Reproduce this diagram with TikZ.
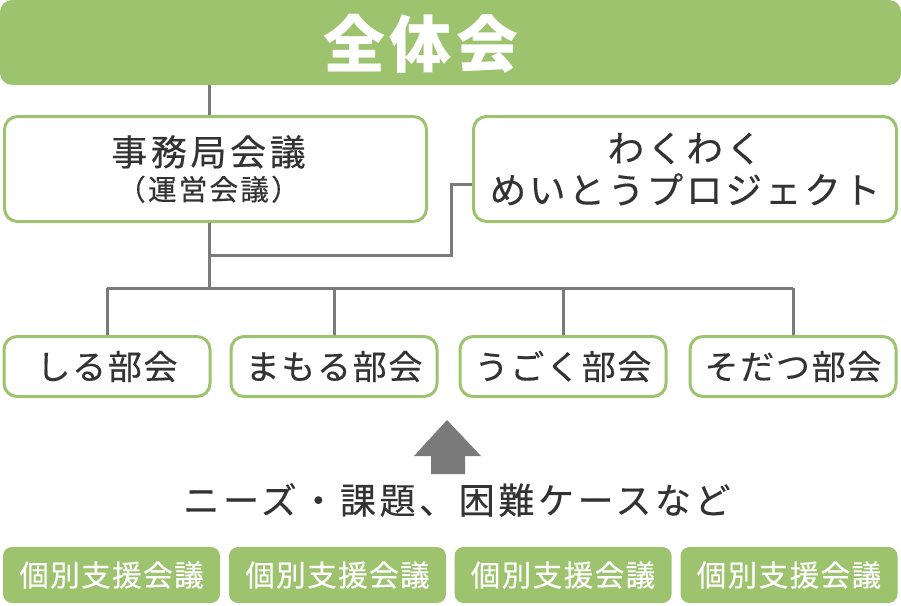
\documentclass[tikz,border=0pt]{standalone}
\usepackage{fontspec}
\setmainfont{Noto Sans CJK JP}
\usetikzlibrary{positioning}
\definecolor{hagreen}{HTML}{9DC36F}
\definecolor{linegray}{HTML}{7A7A7A}
\definecolor{textgray}{HTML}{333333}

\begin{document}
\begin{tikzpicture}[
  x=1pt, y=-1pt,
  kaigi/.style={
    draw=hagreen, fill=white, line width=3pt,
    rounded corners=13pt, inner sep=0pt,
    text=textgray, align=center
  },
  bukai/.style={
    kaigi, minimum width=206pt, minimum height=60pt,
    font=\fontsize{34}{40}\selectfont\addfontfeatures{LetterSpace=5,FakeBold=0.4}
  },
  kobetsu/.style={
    fill=hagreen, rounded corners=9pt, inner sep=0pt,
    minimum width=217pt, minimum height=56pt, text=white,
    font=\fontsize{29.5}{34}\selectfont\addfontfeatures{LetterSpace=5,FakeBold=0.4}
  },
  link/.style={-, line width=3pt, linegray},
]
  \useasboundingbox (0,0) rectangle (901,605);

  % top
  \node[fill=hagreen, rounded corners=12pt, minimum width=901pt,
    minimum height=85pt, inner sep=0pt] (zentai) at (450.5,42.5) {};
  \node[text=white, font=\fontsize{62}{66}\selectfont\bfseries\addfontfeatures{LetterSpace=8}]
    (zentailabel) at (421,44) {全体会};

  % second row
  \node[kaigi, minimum width=422pt, minimum height=105pt] (jimu) at (215.5,169)
    {\hspace*{-14pt}\fontsize{36}{40}\selectfont\addfontfeatures{LetterSpace=10,FakeBold=0.4}事務局会議\\[6pt]
     \hspace*{-14pt}\fontsize{28.5}{30}\selectfont\addfontfeatures{LetterSpace=8,FakeBold=0.4}（運営会議）};
  \node[kaigi, minimum width=423pt, minimum height=105pt] (waku) at (685,169)
    {\fontsize{36.5}{40}\selectfont\addfontfeatures{LetterSpace=8,FakeBold=0.4}わくわく\\[8pt]
     \fontsize{36.5}{40}\selectfont\addfontfeatures{LetterSpace=8,FakeBold=0.4}めいとうプロジェクト};

  % bukai
  \node[bukai] (bukai1) at (107,366.5) {しる部会};
  \node[bukai] (bukai2) at (334,366.5) {まもる部会};
  \node[bukai] (bukai3) at (563,366.5) {うごく部会};
  \node[bukai] (bukai4) at (793,366.5) {そだつ部会};

  \coordinate (hub) at (209,255);
  \coordinate (bar) at (209,288);

  \draw[link] (zentai.south -| hub) -- (jimu.north -| hub);
  \draw[link] (jimu.south -| hub) -- (bar);
  \draw[link] ([yshift=-15pt]waku.west) -- ++(-21,0) |- (hub);
  \draw[link] (bukai1.north |- bar) -- (bukai4.north |- bar);
  \foreach \i in {1,...,4} {
    \draw[link] (bukai\i.north |- bar) -- (bukai\i.north);
  }

  % arrow
  \fill[linegray] (447,420) -- (481,456) -- (465,456) -- (465,474)
    -- (431,474) -- (431,456) -- (414,456) -- cycle;

  \node[text=textgray, font=\fontsize{36}{40}\selectfont\addfontfeatures{LetterSpace=10,FakeBold=0.4}]
    (kadai) at (457,500) {ニーズ・課題、困難ケースなど};

  % bottom
  \node[kobetsu] (kobetsu1) at (111.5,575) {個別支援会議};
  \node[kobetsu] (kobetsu2) at (337.5,575) {個別支援会議};
  \node[kobetsu] (kobetsu3) at (563,575) {個別支援会議};
  \node[kobetsu] (kobetsu4) at (789,575) {個別支援会議};
\end{tikzpicture}
\end{document}
